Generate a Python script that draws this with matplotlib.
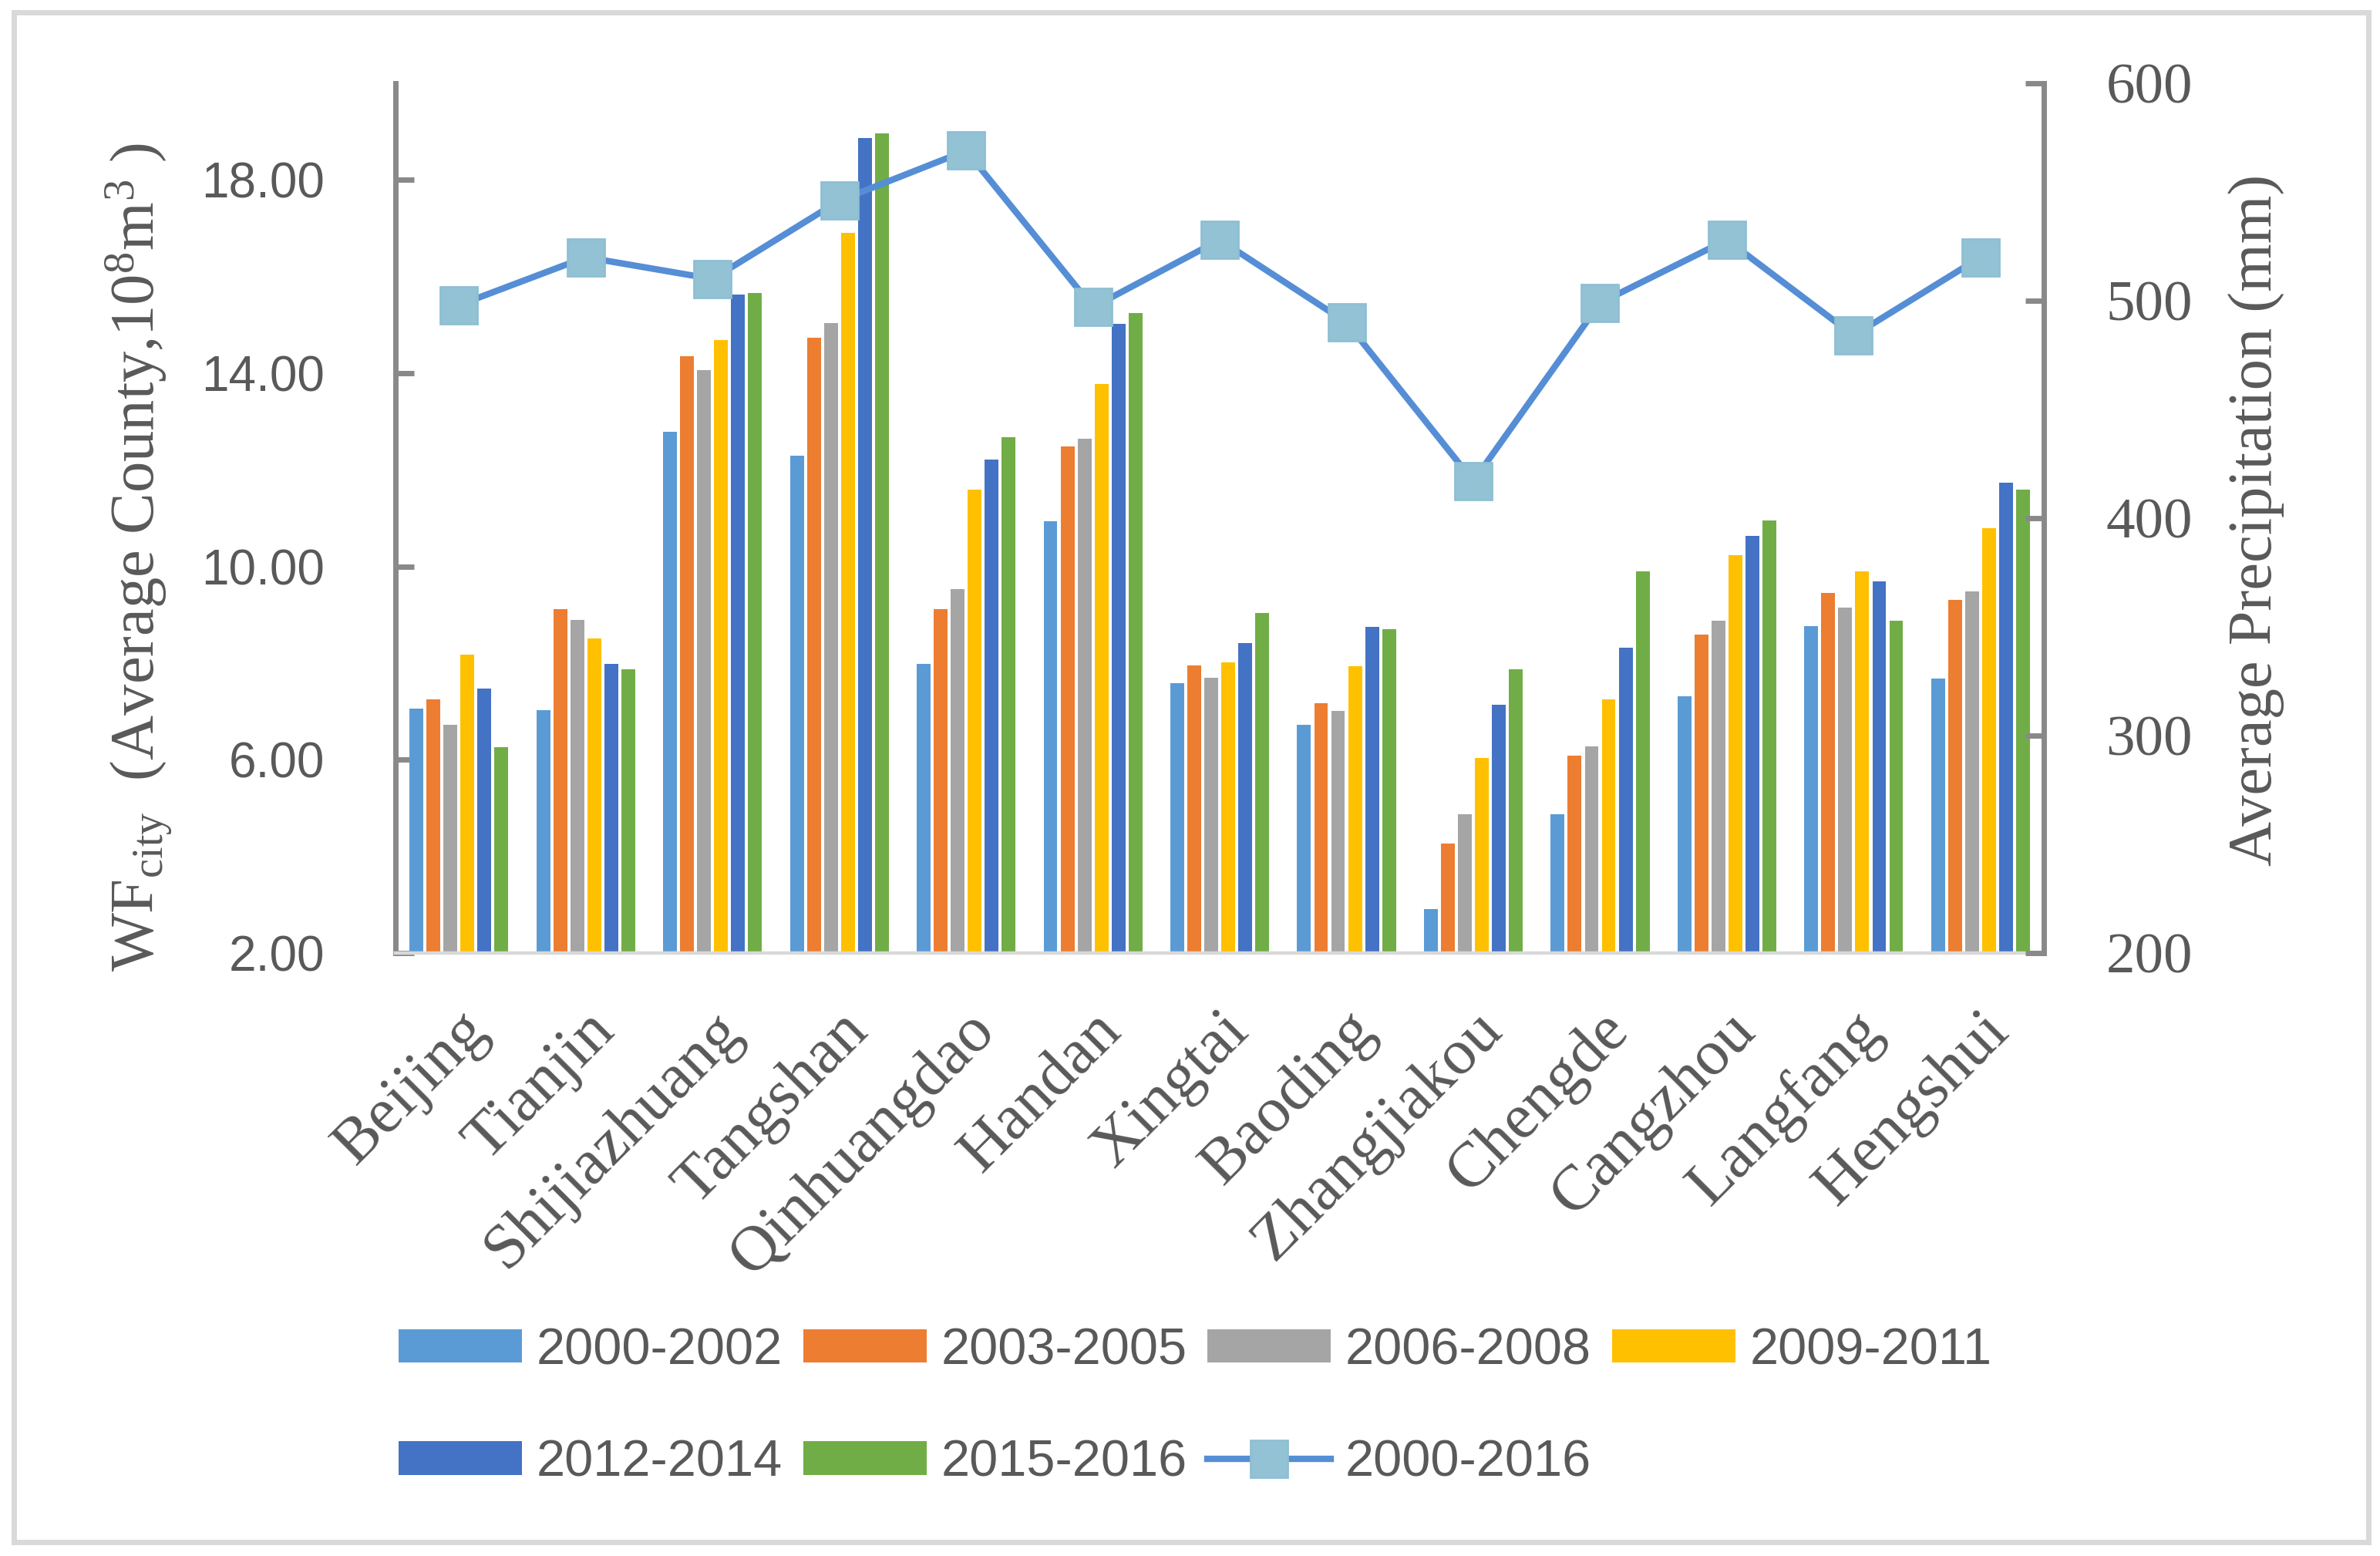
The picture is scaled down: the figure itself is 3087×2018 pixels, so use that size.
import numpy as np
import matplotlib
matplotlib.use("Agg")
import matplotlib.pyplot as plt
import matplotlib.transforms as mtransforms
from matplotlib.patches import Rectangle, Patch
from matplotlib.lines import Line2D

# Cities on the x axis
cities = ["Beijing", "Tianjin", "Shijiazhuang", "Tangshan", "Qinhuangdao", "Handan",
          "Xingtai", "Baoding", "Zhangjiakou", "Chengde", "Cangzhou", "Langfang", "Hengshui"]

# WF_city per period (10^8 m^3)
wf_2000_2002 = [7.06, 7.02, 12.78, 12.29, 7.98, 10.94, 7.59, 6.72, 2.91, 4.88, 7.31, 8.77, 7.68]
wf_2003_2005 = [7.25, 9.12, 14.35, 14.73, 9.12, 12.48, 7.96, 7.17, 4.26, 6.08, 8.59, 9.46, 9.31]
wf_2006_2008 = [6.73, 8.89, 14.06, 15.03, 9.53, 12.64, 7.70, 7.01, 4.88, 6.27, 8.88, 9.15, 9.49]
wf_2009_2011 = [8.17, 8.51, 14.69, 16.91, 11.59, 13.77, 8.02, 7.94, 6.04, 7.25, 10.23, 9.90, 10.80]
wf_2012_2014 = [7.47, 7.99, 15.63, 18.87, 12.21, 15.02, 8.41, 8.75, 7.14, 8.32, 10.64, 9.69, 11.74]
wf_2015_2016 = [6.26, 7.87, 15.66, 18.97, 12.68, 15.24, 9.03, 8.70, 7.87, 9.90, 10.95, 8.88, 11.59]

# average precipitation 2000-2016 (mm)
precip = [498, 520, 510, 546, 569, 497, 528, 490, 417, 499, 528, 484, 520]

periods = ["2000-2002", "2003-2005", "2006-2008", "2009-2011", "2012-2014", "2015-2016"]
bar_colors = ["#5B9BD5", "#ED7D31", "#A5A5A5", "#FFC000", "#4472C4", "#70AD47"]
series = [wf_2000_2002, wf_2003_2005, wf_2006_2008, wf_2009_2011, wf_2012_2014, wf_2015_2016]

text_col = "#595959"
axis_col = "#898989"
line_col = "#558ED5"
marker_col = "#93C2D5"

plt.rcParams["mathtext.fontset"] = "custom"
plt.rcParams["mathtext.rm"] = "Liberation Serif"
plt.rcParams["mathtext.it"] = "Liberation Serif:italic"
plt.rcParams["mathtext.bf"] = "Liberation Serif:bold"

fig = plt.figure(figsize=(15.435, 10.09), dpi=200)
ax = fig.add_axes([0.1662, 0.3875, 0.6926, 0.559])

x = np.arange(len(cities))
step = 0.134
width = 0.109
for i, (vals, col) in enumerate(zip(series, bar_colors)):
    ax.bar(x + (i - 2.5) * step, np.array(vals) - 2, width, bottom=2, color=col, zorder=2)

ax.set_xlim(-0.5, len(cities) - 0.5)
ax.set_ylim(2, 20)
ax.set_yticks([2, 6, 10, 14, 18])
ax.set_yticklabels([f"{v:.2f}" for v in [2, 6, 10, 14, 18]],
                   fontsize=23, family="Liberation Sans", color=text_col)
ax.tick_params(axis="y", direction="in", length=8.6, width=2.5, color=axis_col, pad=33)

ax.set_xticks(x)
ax.set_xticklabels(cities, rotation=45, ha="right", va="center", rotation_mode="anchor",
                   fontsize=30, family="Liberation Serif", color=text_col)
ax.tick_params(axis="x", length=0, pad=32)
offset = mtransforms.ScaledTranslation(9 / 72, 0, fig.dpi_scale_trans)
for lbl in ax.get_xticklabels():
    lbl.set_transform(lbl.get_transform() + offset)

for s in ["top", "right"]:
    ax.spines[s].set_visible(False)
ax.spines["left"].set_color(axis_col)
ax.spines["left"].set_linewidth(2.5)
ax.spines["bottom"].set_color("#D9D9D9")
ax.spines["bottom"].set_linewidth(1.6)

ax2 = ax.twinx()
ax2.plot(x, precip, color=line_col, linewidth=3, marker="s", markersize=17,
         markerfacecolor=marker_col, markeredgecolor="#8EBFD3", markeredgewidth=1, zorder=3)
ax2.set_ylim(200, 600)
ax2.set_yticks([200, 300, 400, 500, 600])
ax2.set_yticklabels(["200", "300", "400", "500", "600"],
                    fontsize=27, family="Liberation Serif", color=text_col)
ax2.tick_params(axis="y", direction="in", length=8.6, width=2.5, color=axis_col, pad=29)
for s in ["top", "left", "bottom"]:
    ax2.spines[s].set_visible(False)
ax2.spines["right"].set_color(axis_col)
ax2.spines["right"].set_linewidth(2.5)

fig.text(180 / 3087, 1 - 723 / 2018,
         r"WF$_{\mathrm{city}}$  (Average County,10$^{\mathrm{8}}$m$^{\mathrm{3}}$ )",
         rotation=90, ha="center", va="center", fontsize=29,
         family="Liberation Serif", color=text_col)
fig.text(2927 / 3087, 1 - 674 / 2018, "Average Precipitation (mm)",
         rotation=90, ha="center", va="center", fontsize=29,
         family="Liberation Serif", color=text_col)

# legend is filled column by column, so order the entries to read row by row
handles = [Patch(facecolor=c) for c in bar_colors]
handles.append(Line2D([], [], color=line_col, linewidth=3, marker="s", markersize=17,
                      markerfacecolor=marker_col, markeredgecolor="#8EBFD3"))
labels = periods + ["2000-2016"]
order = [0, 4, 1, 5, 2, 6, 3]
fig.legend([handles[k] for k in order], [labels[k] for k in order], ncol=4, loc="upper left",
           bbox_to_anchor=(517 / 3087, 1 - 1721 / 2018), frameon=False,
           borderaxespad=0, borderpad=0, handlelength=2.4, handleheight=0.63,
           handletextpad=0.28, columnspacing=0.4, labelspacing=1.25,
           prop={"family": "Liberation Sans", "size": 24}, labelcolor=text_col)

# light grey frame round the whole chart
fig.patches.append(Rectangle((18 / 3087, 1 - 2000 / 2018), (3072 - 18) / 3087,
                             (2000 - 16) / 2018, transform=fig.transFigure,
                             fill=False, edgecolor="#D9D9D9", linewidth=2.5))

fig.savefig("out.png", dpi=200)
